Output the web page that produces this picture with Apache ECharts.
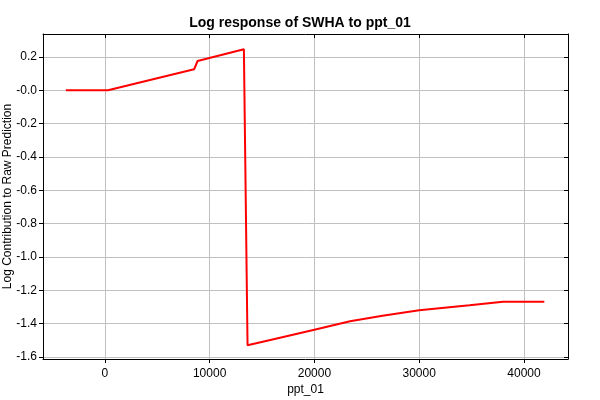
<!DOCTYPE html>
<html>
<head>
<meta charset="utf-8">
<script src="https://cdn.jsdelivr.net/npm/echarts@6/dist/echarts.min.js"></script>
<style>
  html, body { margin: 0; padding: 0; background: #fff; }
  #chart { width: 600px; height: 400px; }
</style>
</head>
<body>
<div id="chart"></div>
<script>
// values
var xValues = [-3720, 300, 8520, 8850, 13270, 13620, 16000, 20000, 23400, 26500, 30000, 34800, 38000, 41940];
var yValues = [0, 0, 0.126, 0.176, 0.246, -1.53, -1.495, -1.436, -1.386, -1.353, -1.32, -1.29, -1.268, -1.268];

var xMin = -5900, xMax = 44200;
var yMin = -1.612, yMax = 0.338;

var points = xValues.map(function (x, i) { return [x, yValues[i]]; });

var font = "Liberation Sans, Arial, sans-serif";

function yLabel(v) {
  if (Math.abs(v) < 1e-9) return "-0.0";
  return v.toFixed(1);
}

function xLabel(v) {
  return String(Math.round(v));
}

var chart = echarts.init(document.getElementById("chart"), null, { renderer: "canvas" });
chart.setOption({
  animation: false,
  backgroundColor: "#fff",
  title: {
    text: "Log response of SWHA to ppt_01",
    left: "center",
    top: 11,
    textStyle: { fontFamily: font, fontSize: 14, fontWeight: "bold", color: "#000" }
  },
  grid: { left: 43, right: 32, top: 34, bottom: 41, containLabel: false, outerBoundsMode: "none" },
  xAxis: [
    {
      type: "value",
      min: xMin,
      max: xMax,
      splitNumber: 5,
      name: "ppt_01",
      nameLocation: "middle",
      nameGap: 25,
      nameMoveOverlap: false,
      nameTextStyle: { fontFamily: font, fontSize: 12, color: "#000" },
      axisLine: { show: true, onZero: false, lineStyle: { color: "#000", width: 1 } },
      axisTick: { show: true, inside: false, length: 4, lineStyle: { color: "#000" } },
      axisLabel: {
        fontFamily: font, fontSize: 12, color: "#000", margin: 9,
        showMinLabel: false, showMaxLabel: false,
        formatter: xLabel
      },
      splitLine: { show: true, lineStyle: { color: "#c0c0c0", width: 1 } }
    },
    {
      type: "value",
      position: "top",
      min: xMin,
      max: xMax,
      splitNumber: 5,
      axisLine: { show: true, onZero: false, lineStyle: { color: "#000", width: 1 } },
      axisTick: { show: true, inside: true, length: 4, lineStyle: { color: "#000" } },
      axisLabel: { show: false },
      splitLine: { show: false }
    }
  ],
  yAxis: [
    {
      type: "value",
      min: yMin,
      max: yMax,
      splitNumber: 10,
      name: "Log Contribution to Raw Prediction",
      nameLocation: "middle",
      nameGap: 29,
      nameMoveOverlap: false,
      nameTextStyle: { fontFamily: font, fontSize: 12, color: "#000" },
      axisLine: { show: true, onZero: false, lineStyle: { color: "#000", width: 1 } },
      axisTick: { show: true, inside: false, length: 4, lineStyle: { color: "#000" } },
      axisLabel: {
        fontFamily: font, fontSize: 12, color: "#000", margin: 6,
        showMinLabel: false, showMaxLabel: false,
        formatter: yLabel
      },
      splitLine: { show: true, lineStyle: { color: "#c0c0c0", width: 1 } }
    },
    {
      type: "value",
      position: "right",
      min: yMin,
      max: yMax,
      splitNumber: 10,
      axisLine: { show: true, onZero: false, lineStyle: { color: "#000", width: 1 } },
      axisTick: { show: true, inside: true, length: 4, lineStyle: { color: "#000" } },
      axisLabel: { show: false },
      splitLine: { show: false }
    }
  ],
  series: [
    {
      type: "line",
      data: points,
      showSymbol: false,
      lineStyle: { color: "#ff0000", width: 2 },
      itemStyle: { color: "#ff0000" }
    }
  ]
});
</script>
</body>
</html>
